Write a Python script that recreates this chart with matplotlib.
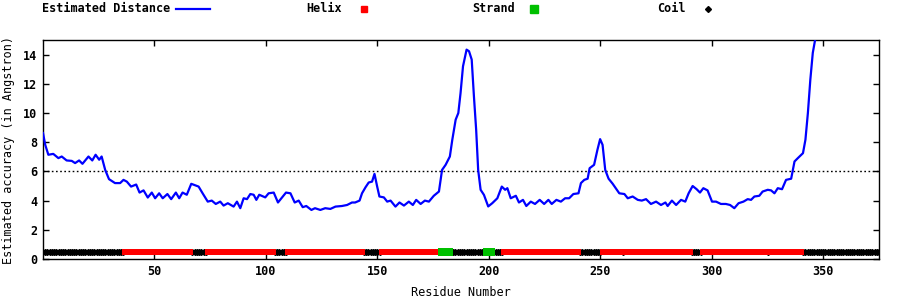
import numpy as np
import matplotlib
matplotlib.use("Agg")
import matplotlib.pyplot as plt
from matplotlib.lines import Line2D

# estimated distance curve
residue = [
    0, 1, 2.4, 4.6, 6.9, 8.4, 10.6, 12.9, 14.4, 16.2, 17.7, 20.4, 22.1, 23.6, 25.2, 26.3,
    27.9, 29.6, 32.3, 34.6, 36.1, 37.6, 39.5, 41.8, 43.3, 45.1, 47, 48.8, 50.3, 52.1,
    53.7, 55.8, 57.5, 59.6, 61.1, 62.6, 64.5, 66.5, 68.2, 69.8, 71.6, 73.9, 75.7, 77.5,
    79.5, 81, 82.9, 85.5, 87, 88.5, 90, 91.5, 93, 94.5, 95.7, 97, 99.7, 101.2, 103.5,
    105.4, 107.2, 109, 111, 112.9, 114.7, 116.5, 118.1, 120.4, 122, 124.4, 126.6, 128.9,
    131.2, 134.1, 136.4, 138.6, 140, 142, 143.1, 144.7, 146.1, 147.6, 148.7, 149.9,
    150.9, 152.9, 154.4, 155.9, 158.1, 159.9, 161.9, 164.1, 165.9, 167.4, 169.4, 171.3,
    173.1, 175.3, 177.6, 179, 180.6, 182.5, 183.6, 185.1, 186.3, 187.3, 188.4, 190,
    191.1, 192.3, 193.3, 194.3, 195.2, 196.3, 197.8, 199.7, 201.5, 203.8, 205.8, 207.3,
    208.3, 209.8, 212.1, 213.5, 215.3, 216.8, 218.8, 220.7, 222.8, 224.8, 226.7, 228.2,
    230.3, 232.3, 234.2, 236, 237.9, 240.2, 241.3, 242.8, 244.3, 245.2, 247.2, 248.7,
    249.9, 251, 252.2, 253.7, 255.5, 258.5, 260.8, 262.3, 264.5, 266.8, 268.6, 270.5,
    272.7, 275, 277.2, 279.2, 280.2, 282.1, 284, 286.2, 288.1, 289.6, 291.4, 293.2,
    294.7, 296.2, 298.1, 300.1, 301.9, 304.1, 306.3, 308.2, 310.1, 312, 314.2, 316.1,
    317.6, 319.1, 321.3, 322.8, 325.1, 326.6, 328.1, 329.6, 331.5, 333.3, 335.6, 337.1,
    338.6, 340.9, 342, 343.1, 344.2, 345.3, 346.5, 347.5,
]
distance = [
    8.63, 7.82, 7.14, 7.2, 6.91, 7.02, 6.75, 6.72, 6.57, 6.75, 6.52, 7.02, 6.75, 7.14, 6.8, 7.02,
    6.1, 5.47, 5.2, 5.2, 5.42, 5.3, 4.96, 5.1, 4.55, 4.7, 4.21, 4.55, 4.16, 4.5,
    4.16, 4.45, 4.1, 4.55, 4.16, 4.55, 4.4, 5.15, 5.05, 4.96, 4.5, 3.93, 4.0, 3.77,
    3.93, 3.66, 3.82, 3.59, 3.93, 3.48, 4.16, 4.1, 4.45, 4.4, 4.05, 4.4, 4.22, 4.5, 4.55,
    3.87, 4.21, 4.55, 4.5, 3.87, 4.0, 3.55, 3.63, 3.36, 3.48, 3.36, 3.48, 3.43,
    3.59, 3.63, 3.7, 3.87, 3.87, 4.0, 4.5, 4.92, 5.24, 5.3, 5.83, 4.96,
    4.28, 4.22, 3.93, 4.0, 3.59, 3.87, 3.66, 3.93, 3.7, 4.05, 3.77, 4.0,
    3.93, 4.33, 4.62, 6.1, 6.45, 7.02, 8.17, 9.54, 10.0, 11.37, 13.2, 14.34,
    14.23, 13.66, 11.14, 8.85, 6.1, 4.74, 4.39, 3.6, 3.82, 4.16, 4.96, 4.74,
    4.85, 4.16, 4.33, 3.87, 4.05, 3.63, 3.93, 3.77, 4.05, 3.77, 4.05, 3.77,
    4.05, 3.93, 4.16, 4.16, 4.45, 4.5, 5.2, 5.42, 5.5, 6.22, 6.45, 7.48,
    8.21, 7.82, 6.1, 5.5, 5.16, 4.5, 4.45, 4.16, 4.28, 4.05, 4.0, 4.1,
    3.77, 3.93, 3.7, 3.87, 3.63, 4.0, 3.7, 4.05, 3.93, 4.5, 5.0, 4.78,
    4.55, 4.85, 4.7, 3.93, 3.93, 3.77, 3.77, 3.7, 3.48, 3.82, 3.93, 4.1,
    4.05, 4.28, 4.33, 4.62, 4.74, 4.7, 4.5, 4.85, 4.78, 5.42, 5.5, 6.68,
    6.91, 7.25, 8.17, 10.0, 12.29, 14.12, 15.15, 16.0,
]

# secondary structure ranges (inclusive residue numbers)
helix_ranges = [(37, 66), (74, 103), (110, 143), (152, 178), (207, 240),
                (251, 259), (261, 290), (296, 324), (326, 340)]
strand_ranges = [(179, 182), (199, 201)]
n_residues = 375
ss_level = 0.5
threshold = 6


def in_ranges(r, ranges):
    return any(a <= r <= b for a, b in ranges)


def main():
    plt.rcParams["font.family"] = "DejaVu Sans Mono"
    plt.rcParams["font.weight"] = "bold"
    plt.rcParams["font.size"] = 8.5

    fig = plt.figure(figsize=(9, 3), dpi=100)
    ax = fig.add_axes([43 / 900, 41 / 300, 836 / 900, 219 / 300])

    res = np.arange(1, n_residues + 1)
    helix = [r for r in res if in_ranges(r, helix_ranges)]
    strand = [r for r in res if in_ranges(r, strand_ranges)]
    coil = [r for r in res if r not in helix and r not in strand]

    ax.plot(coil, [ss_level] * len(coil), linestyle="none", marker="D",
            markersize=3.0, color="black", zorder=3)
    ax.plot(helix, [ss_level] * len(helix), linestyle="none", marker="s",
            markersize=4.0, color="#ff0000", markeredgewidth=0, zorder=3)
    ax.plot(strand, [ss_level] * len(strand), linestyle="none", marker="s",
            markersize=6.0, color="#00c000", markeredgewidth=0, zorder=4)

    ax.axhline(threshold, color="black", linestyle=(0, (1.2, 1.8)), linewidth=1.0)
    ax.plot(residue, distance, color="#0000ff", linewidth=1.6, zorder=5)

    ax.set_xlim(0, 375)
    ax.set_ylim(0, 15)
    ax.set_xticks(range(50, 351, 50))
    ax.set_yticks(range(0, 15, 2))
    ax.tick_params(direction="in", length=4, width=1, top=True, right=True,
                   labelsize=8.5, pad=4)
    for s in ax.spines.values():
        s.set_linewidth(1)

    ax.set_xlabel("Residue Number", labelpad=6)
    ax.set_ylabel("Estimated accuracy (in Angstron)", labelpad=6)

    # legend row along the top
    ly = 1 - 9 / 300
    fig.text(42 / 900, ly, "Estimated Distance", va="center", ha="left")
    fig.add_artist(Line2D([176 / 900, 210 / 900], [ly, ly], color="#0000ff",
                          linewidth=1.6, transform=fig.transFigure))
    fig.text(306 / 900, ly, "Helix", va="center", ha="left")
    fig.add_artist(Line2D([364 / 900], [ly], marker="s", markersize=4.0,
                          color="#ff0000", linestyle="none", transform=fig.transFigure))
    fig.text(472 / 900, ly, "Strand", va="center", ha="left")
    fig.add_artist(Line2D([534 / 900], [ly], marker="s", markersize=6.0,
                          color="#00c000", linestyle="none", transform=fig.transFigure))
    fig.text(657 / 900, ly, "Coil", va="center", ha="left")
    fig.add_artist(Line2D([708 / 900], [ly], marker="D", markersize=3.0,
                          color="black", linestyle="none", transform=fig.transFigure))

    fig.savefig("out.png", dpi=100)


if __name__ == "__main__":
    main()
